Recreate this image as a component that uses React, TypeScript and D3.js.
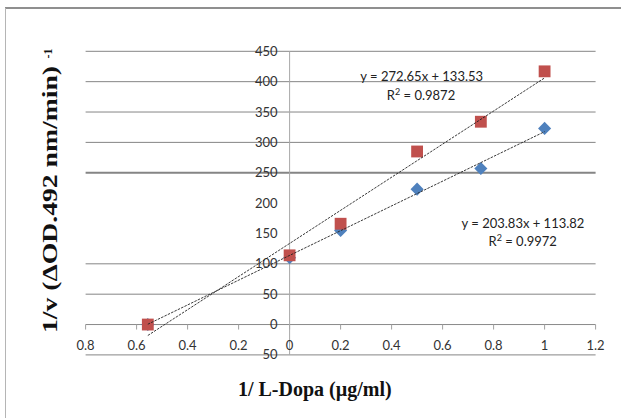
import React from "react";
import * as d3 from "d3";

// ---- data ----
const xBlue = [-0.556, 0, 0.2, 0.5, 0.75, 1.0];
const yBlue = [0, 110, 155, 223, 257, 323];
const xRed = [-0.556, 0, 0.2, 0.5, 0.75, 1.0];
const yRed = [0, 114, 166, 285, 334, 417];

const blueFit = { slope: 203.83, intercept: 113.82, eq: "y = 203.83x + 113.82", r2: "0.9972" };
const redFit = { slope: 272.65, intercept: 133.53, eq: "y = 272.65x + 133.53", r2: "0.9872" };
const fitRange = [-0.556, 1.0];

const xTickValues = [-0.8, -0.6, -0.4, -0.2, 0, 0.2, 0.4, 0.6, 0.8, 1.0, 1.2];
const xTickLabels = ["0.8", "0.6", "0.4", "0.2", "0", "0.2", "0.4", "0.6", "0.8", "1", "1.2"];
const yTickValues = [450, 400, 350, 300, 250, 200, 150, 100, 50, 0, -50];
const yTickLabels = ["450", "400", "350", "300", "250", "200", "150", "100", "50", "0", "50"];
const yGridValues = [450, 400, 350, 300, 250, 100, 50, -50];

const W = 621;
const H = 418;

export default function App() {
  const x = d3.scaleLinear().domain([-0.8, 1.2]).range([85.6, 595.6]);
  const y = d3.scaleLinear().domain([-50, 450]).range([354.9, 51.3]);

  const square = d3.symbol().type(d3.symbolSquare).size(140)();
  const diamond = d3.symbol().type(d3.symbolSquare).size(86)();
  const line = d3
    .line<number>()
    .x((d) => x(d[0]))
    .y((d) => y(d[1]));
  const fitPts = (f: { slope: number; intercept: number }) =>
    fitRange.map((v) => [v, f.slope * v + f.intercept]);

  const labelFont = "Lato, 'Open Sans', sans-serif";

  return (
    <svg
      width={W}
      height={H}
      style={{ position: "absolute", left: 0, top: 0, background: "#fff" }}
    >
      <rect x={0} y={0} width={W} height={H} fill="#fff" />
      {/* frame */}
      <line x1={5} x2={W} y1={8} y2={8} stroke="#8f8f8f" strokeWidth={2} />
      <line x1={5.5} x2={5.5} y1={8} y2={H} stroke="#b5b5b5" strokeWidth={1} />

      {/* gridlines */}
      {yGridValues.map((v) => (
        <line
          key={"g" + v}
          x1={x(-0.8)}
          x2={x(1.2)}
          y1={y(v)}
          y2={y(v)}
          stroke="#858585"
          strokeWidth={v === 250 ? 2 : 1}
        />
      ))}
      {/* x axis */}
      <line x1={x(-0.8)} x2={x(1.2)} y1={y(0)} y2={y(0)} stroke="#8a8a8a" strokeWidth={1} />
      {xTickValues.map((v) => (
        <line key={"xt" + v} x1={x(v)} x2={x(v)} y1={y(0)} y2={y(0) + 5} stroke="#a0a0a0" strokeWidth={1} />
      ))}
      {/* y axis */}
      <line x1={x(0)} x2={x(0)} y1={y(450)} y2={y(-50)} stroke="#a8a8a8" strokeWidth={1} />

      {/* tick labels */}
      {yTickValues.map((v, i) => (
        <text
          key={"yl" + v}
          x={x(0) - 12}
          y={y(v)}
          dy="0.35em"
          textAnchor="end"
          fontFamily={labelFont}
          fontSize={13}
          fill="#333"
        >
          {yTickLabels[i]}
        </text>
      ))}
      {xTickValues.map((v, i) => (
        <text
          key={"xl" + v}
          x={x(v)}
          y={345}
          dy="0.35em"
          textAnchor="middle"
          fontFamily={labelFont}
          fontSize={13}
          fill="#333"
        >
          {xTickLabels[i]}
        </text>
      ))}

      {/* markers */}
      {xBlue.map((v, i) => (
        <path
          key={"b" + i}
          d={diamond}
          transform={`translate(${x(v)},${y(yBlue[i])}) rotate(45)`}
          fill="#4F81BD"
        />
      ))}
      {xRed.map((v, i) => (
        <path key={"r" + i} d={square} transform={`translate(${x(v)},${y(yRed[i])})`} fill="#C0504D" />
      ))}

      {/* trend lines */}
      <path d={line(fitPts(blueFit) as any) || ""} fill="none" stroke="#222" strokeWidth={0.9} strokeDasharray="2.5 1.2" />
      <path d={line(fitPts(redFit) as any) || ""} fill="none" stroke="#222" strokeWidth={0.9} strokeDasharray="2.5 1.2" />

      {/* equations */}
      <text x={421.7} y={76.7} dy="0.35em" textAnchor="middle" fontFamily={labelFont} fontSize={13} fill="#222">
        {redFit.eq}
      </text>
      <text x={421} y={95} dy="0.35em" textAnchor="middle" fontFamily={labelFont} fontSize={13} fill="#222">
        R<tspan dy="-5" fontSize={9}>2</tspan>
        <tspan dy="5">{" = " + redFit.r2}</tspan>
      </text>
      <text x={523} y={223} dy="0.35em" textAnchor="middle" fontFamily={labelFont} fontSize={13} fill="#222">
        {blueFit.eq}
      </text>
      <text x={522.7} y={241.7} dy="0.35em" textAnchor="middle" fontFamily={labelFont} fontSize={13} fill="#222">
        R<tspan dy="-5" fontSize={9}>2</tspan>
        <tspan dy="5">{" = " + blueFit.r2}</tspan>
      </text>

      {/* axis titles */}
      <text
        transform="translate(57,199.5) rotate(-90)"
        textAnchor="middle"
        fontFamily="'Liberation Serif', 'Times New Roman', serif"
        fontWeight="bold"
        fontSize={20}
        textLength={267}
        lengthAdjust="spacingAndGlyphs"
        fill="#111"
      >
        1/v (ΔOD.492 nm/min)
      </text>
      <text
        transform="translate(52,53.5) rotate(-90)"
        textAnchor="middle"
        fontFamily="'Liberation Serif', 'Times New Roman', serif"
        fontWeight="bold"
        fontSize={12}
        fill="#111"
      >
        -1
      </text>
      <text
        x={314.8}
        y={396}
        textAnchor="middle"
        fontFamily="'Liberation Serif', 'Times New Roman', serif"
        fontWeight="bold"
        fontSize={20}
        fill="#111"
      >
        1/ L-Dopa (µg/ml)
      </text>
    </svg>
  );
}
